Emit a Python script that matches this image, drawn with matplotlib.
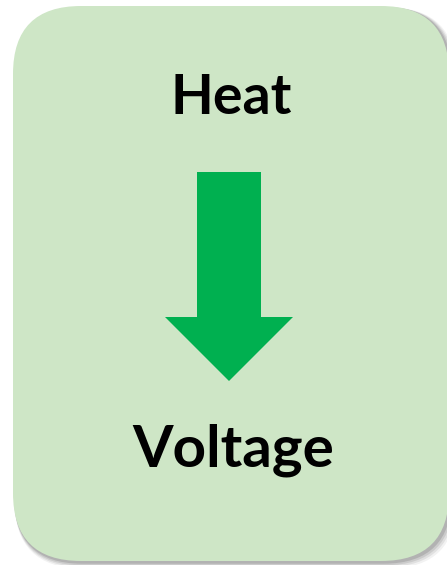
import matplotlib
matplotlib.use("Agg")
import matplotlib.pyplot as plt
from matplotlib.patches import FancyBboxPatch, Polygon

top_label = "Heat"
bottom_label = "Voltage"

W, H = 447, 565
fig = plt.figure(figsize=(W / 100, H / 100), dpi=100)
ax = fig.add_axes([0, 0, 1, 1])
ax.set_xlim(0, W)
ax.set_ylim(H, 0)
ax.axis("off")

# box geometry (pixels)
x0, y0, x1, y1 = 13, 6, 449, 561
r = 68

# shadow
for i, a in enumerate([0.05, 0.07, 0.09, 0.12]):
    off = 4.5 - i * 0.9
    grow = 3 - i * 0.7
    sh = FancyBboxPatch((x0 + r + off - grow, y0 + r + off - grow),
                        (x1 - x0 - 2 * r) + 2 * grow, (y1 - y0 - 2 * r) + 2 * grow,
                        boxstyle=f"round,pad={r}", fc="black", ec="none", alpha=a)
    ax.add_patch(sh)

box = FancyBboxPatch((x0 + r, y0 + r), x1 - x0 - 2 * r, y1 - y0 - 2 * r,
                     boxstyle=f"round,pad={r}", fc="#CEE6C6", ec="none")
ax.add_patch(box)

# arrow
arrow = Polygon([(197, 172), (261, 172), (261, 317), (293, 317), (229, 381),
                 (165, 317), (197, 317)], closed=True, fc="#00B050", ec="none")
ax.add_patch(arrow)

ax.text(231, 98, top_label, ha="center", va="center", fontsize=40,
        fontweight="bold", family="Lato", color="black")
ax.text(233, 450, bottom_label, ha="center", va="center", fontsize=42,
        fontweight="bold", family="Lato", color="black")

fig.savefig("out.png", dpi=100)
